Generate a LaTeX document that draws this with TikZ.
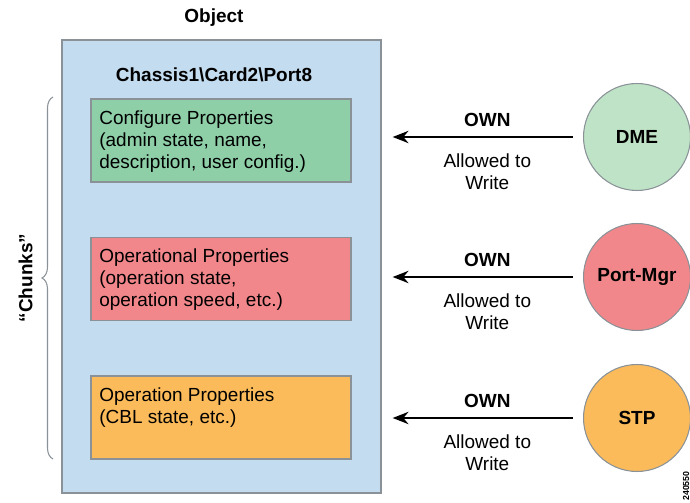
\documentclass[tikz,border=0pt]{standalone}
\usepackage{fontspec}
\setmainfont{Liberation Sans}
\usetikzlibrary{positioning, arrows.meta, decorations.pathreplacing}
\definecolor{objblue}{HTML}{C3DCEF}
\definecolor{cfggreen}{HTML}{8ECFA8}
\definecolor{dmegreen}{HTML}{BFE3C6}
\definecolor{opred}{HTML}{F2878B}
\definecolor{stporange}{HTML}{FBBB5B}
\definecolor{edgegray}{HTML}{8A9298}
\tikzset{
chunkbox/.style={
  rectangle,
  draw=edgegray,
  semithick,
  minimum width=5.2cm,
  minimum height=1.66cm,
 },
chunktext/.style={inner sep=0pt, align=left, anchor=north west},
line/.style={draw, line width=1.1pt, -{Stealth[length=9pt,width=7pt]}},
}

\begin{document}
\begin{tikzpicture}[x=0.02cm, y=-0.02cm,
font=\fontsize{10.8}{12.6}\selectfont,
owner/.style={circle,draw=edgegray,semithick,minimum size=2.14cm,font=\fontsize{10.8}{12.6}\selectfont\bfseries},
title/.style={font=\fontsize{10.8}{12.6}\selectfont\bfseries}]
 \useasboundingbox (0,0) rectangle (690,503);

 \node[rectangle,draw=edgegray,thick,fill=objblue,minimum width=6.38cm,minimum height=9.06cm] (obj) at (221.5,266.5) {};
 \node[title] (objname) at (214,18) {Object};
 \node[title] (path) at (214,75) {Chassis1\textbackslash Card2\textbackslash Port8};

 % the three chunks
 \node[chunkbox,fill=cfggreen] (cfg) at (221,140.5) {};
 \node[chunkbox,fill=opred] (oper) at (221,279) {};
 \node[chunkbox,fill=stporange] (cbl) at (221,417.5) {};
 \node[chunktext,below right=0.23cm and 0.17cm of cfg.north west] (cfgtext)
 {Configure Properties\\(admin state, name,\\description, user config.)};
 \node[chunktext,below right=0.23cm and 0.17cm of oper.north west] (opertext)
 {Operational Properties\\(operation state,\\operation speed, etc.)};
 \node[chunktext,below right=0.23cm and 0.17cm of cbl.north west] (cbltext)
 {Operation Properties\\(CBL state, etc.)};

 \coordinate (bracebot) at (53,459);
 \coordinate (bracetop) at (53,97);
 \draw[edgegray,semithick,decorate,decoration={brace,amplitude=0.22cm}] (bracebot) -- (bracetop)
 node[midway,left=0.28cm,rotate=90,anchor=south,title,text=black] (chunks) {“Chunks”};

 % owners
 \node[owner,fill=dmegreen] (dme) at (637,137) {DME};
 \node[owner,fill=opred] (portmgr) at (637,277) {Port-Mgr};
 \node[owner,fill=stporange] (stp) at (637,418) {STP};

 \foreach \X in {dme,portmgr,stp}
 {\draw[line,shorten <=0.2cm,shorten >=0.22cm] (\X.west) -- (obj.east |- \X.west)
 node[midway,above=0.07cm,xshift=0.1cm,title] (own\X) {OWN}
 node[midway,below=0.2cm,xshift=0.1cm,align=center] (allow\X) {Allowed to\\Write};
 }

 \node[rotate=90,font=\fontsize{5}{6}\selectfont\bfseries] (figid) at (686,486) {240550};
\end{tikzpicture}
\end{document}
